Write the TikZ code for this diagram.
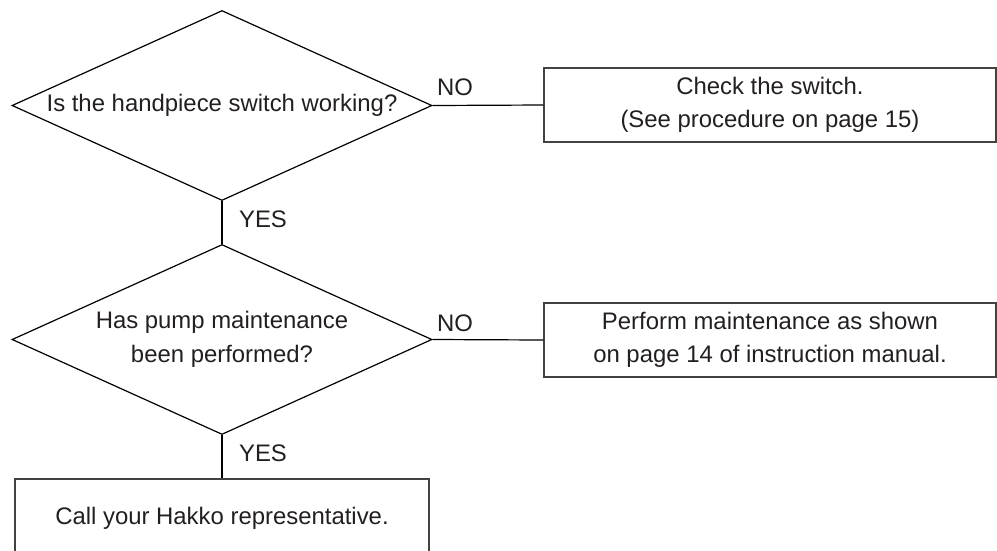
\documentclass[tikz,border=0pt]{standalone}
\usepackage{fontspec}
\setmainfont{Liberation Sans}
\usetikzlibrary{shapes.geometric}
\definecolor{ink}{HTML}{231F20}
\begin{document}
\begin{tikzpicture}[x=1pt,y=-1pt,
  every node/.style={font=\fontsize{23.9}{33.5}\selectfont, text=ink},
  decision/.style={diamond, draw=black, line width=1.2pt, inner sep=0pt, aspect=2.2, minimum width=420pt, minimum height=190pt, align=center},
  action/.style={rectangle, draw=ink!85, line width=1.5pt, inner sep=0pt, align=center},
  lbl/.style={inner sep=0pt},
  link/.style={draw=black, line width=1.2pt}]
\useasboundingbox (0,0) rectangle (997,550);
\clip (0,0) rectangle (997,550);
\node[decision] (d1) at (222,105.5) {Is the handpiece switch working?};
\node[decision] (d2) at (222,339.5) {Has pump maintenance\\been performed?};
\node[action, minimum width=452pt, minimum height=74pt] (b1) at (770,105) {Check the switch.\\(See procedure on page 15)};
\node[action, minimum width=452pt, minimum height=74pt] (b2) at (770,340) {Perform maintenance as shown\\on page 14 of instruction manual.};
\node[action, minimum width=414pt, minimum height=78pt] (b3) at (222,518) {Call your Hakko representative.};
\draw[link] (d1.east) -- (b1.west);
\draw[link] (d1.south) -- (d2.north);
\draw[link] (d2.east) -- (b2.west);
\draw[link] (d2.south) -- (b3.north);
\node[lbl] (no1) at (455,87) {NO};
\node[lbl] (yes1) at (263,219) {YES};
\node[lbl] (no2) at (455,323) {NO};
\node[lbl] (yes2) at (263,453) {YES};
\end{tikzpicture}
\end{document}
